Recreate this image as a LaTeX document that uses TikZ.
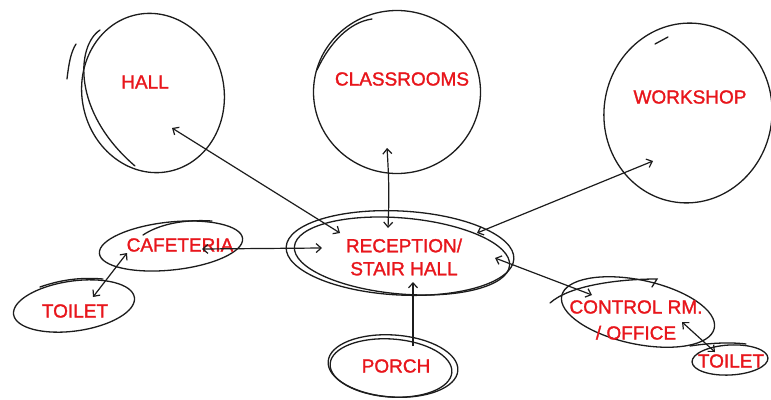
\documentclass[tikz,border=0pt]{standalone}
\usepackage{fontspec}
\setmainfont[FakeBold=1.4]{Liberation Sans}
\usetikzlibrary{arrows.meta,shapes.geometric}
\definecolor{ink}{RGB}{28,28,28}
\definecolor{marker}{RGB}{232,22,28}
\begin{document}
\begin{tikzpicture}[x=1pt,y=-1pt,
  bubble/.style={draw=ink, line width=1.3pt, ellipse, inner sep=0pt},
  roomtext/.style={text=marker, font=\fontsize{19}{23}\selectfont, inner sep=0pt, align=center},
  pen/.style={draw=ink, line width=1.3pt, line cap=round},
  barb/.tip={Straight Barb[length=5pt,width=9pt,line width=1.2pt]},
  link/.style={draw=ink, line width=1.2pt, barb-barb},
  oneway/.style={draw=ink, line width=1.2pt, -barb}]
\fill[white] (0,0) rectangle (771,399);
\useasboundingbox (0,0) rectangle (771,399);

% bubbles
\node[bubble, minimum width=142pt, minimum height=160pt, rotate=12] (hall) at (153,93) {};
\node[bubble, minimum width=167pt, minimum height=163pt] (class) at (397,92) {};
\node[bubble, minimum width=168pt, minimum height=180pt, rotate=-8] (work) at (688,113) {};
\node[bubble, minimum width=144pt, minimum height=48pt, rotate=6] (caf) at (171,246) {};
\node[bubble, minimum width=122pt, minimum height=50pt, rotate=8] (toiletL) at (74,306) {};
\node[bubble, minimum width=228pt, minimum height=84pt, rotate=-3] (rec) at (400,253) {};
\node[bubble, minimum width=216pt, minimum height=76pt, rotate=-5] (recB) at (402,256) {};
\node[bubble, minimum width=130pt, minimum height=62pt, rotate=-4] (porch) at (393,366) {};
\node[bubble, minimum width=122pt, minimum height=58pt, rotate=-4] (porchB) at (391,368) {};
\node[bubble, minimum width=156pt, minimum height=64pt, rotate=-12] (ctrl) at (638,312) {};
\node[bubble, minimum width=76pt, minimum height=30pt, rotate=3] (toiletR) at (730,360) {};

% second pencil passes over the outlines
\draw[pen] (67,79) .. controls (69,62) and (71,52) .. (76,44);
\draw[pen] (100,30) .. controls (76,46) and (72,112) .. (135,166);
\draw[pen] (317,70) .. controls (330,42) and (350,22) .. (372,19);
\draw[pen] (655,44) -- (668,37);
\draw[pen] (143,235) .. controls (158,225) and (182,219) .. (212,221);
\draw[pen] (40,287) .. controls (60,280) and (80,277) .. (103,279);
\draw[pen] (550,303) .. controls (570,285) and (620,279) .. (657,279) -- (652,287);
\draw[pen] (690,346) .. controls (710,343) and (730,342) .. (746,344);

% labels
\node[roomtext] (hallT) at (145,82) {HALL};
\node[roomtext] (classT) at (402,79) {CLASSROOMS};
\node[roomtext] (workT) at (690,97) {WORKSHOP};
\node[roomtext] (cafT) at (180,245) {CAFETERIA};
\node[roomtext] (toiletLT) at (75,311) {TOILET};
\node[roomtext] (recT) at (404,257) {RECEPTION/\\STAIR HALL};
\node[roomtext] (porchT) at (396,366) {PORCH};
\node[roomtext, font=\fontsize{19}{26}\selectfont] (ctrlT) at (636,320) {CONTROL RM.\\/ OFFICE};
\node[roomtext] (toiletRT) at (731,361) {TOILET};

% connections
\draw[link] ([shift={(19,35)}]hall.center) -- ([shift={(-60,-20)}]rec.center);
\draw[link] ([shift={(-10,56)}]class.center) to[bend left=3] ([shift={(-12,-25)}]rec.center);
\draw[link] ([shift={(-35,48)}]work.center) -- ([shift={(77,-20)}]rec.center);
\draw[link] ([shift={(31,3)}]caf.center) -- ([shift={(-78,-5)}]rec.center);
\draw[link] ([shift={(-44,7)}]caf.center) -- ([shift={(19,-9)}]toiletL.center);
\draw[oneway] ([shift={(20,-20)}]porch.center) -- ([shift={(13,29)}]rec.center);
\draw[link] ([shift={(-46,-17)}]ctrl.center) -- ([shift={(95,5)}]rec.center);
\draw[link] ([shift={(44,10)}]ctrl.center) -- ([shift={(-15,-8)}]toiletR.center);
\end{tikzpicture}
\end{document}
